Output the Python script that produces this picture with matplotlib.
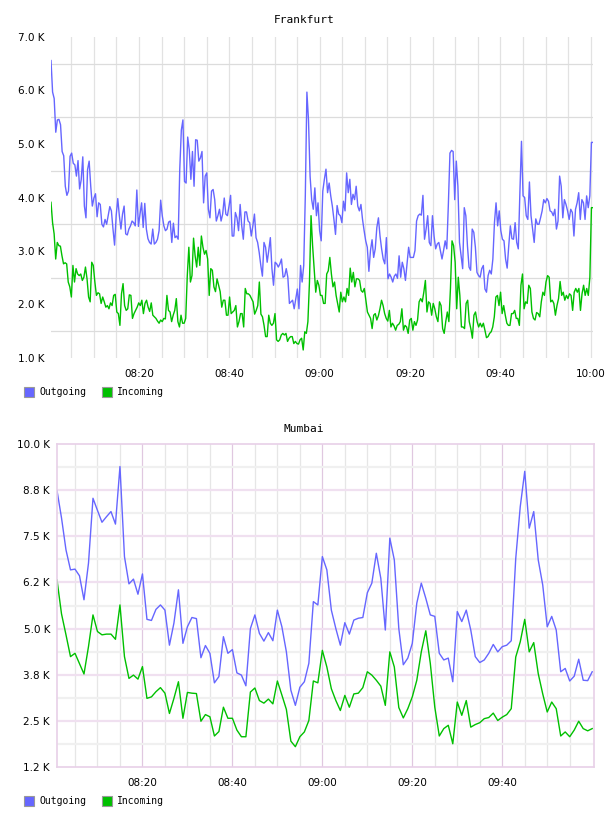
import numpy as np
import matplotlib
matplotlib.use("Agg")
import matplotlib.pyplot as plt
from matplotlib.patches import Rectangle

# Frankfurt: ~20 s samples from 08:00 to 10:00 (values in K)
fra_out = [
    6.56, 5.97, 5.85, 5.22, 5.45, 5.46, 5.36, 4.86, 4.78, 4.21, 4.04, 4.12, 4.77, 4.83, 4.64, 4.61, 4.40, 4.69,
    4.16, 4.33, 4.76, 3.84, 3.62, 4.52, 4.68, 4.21, 3.84, 3.99, 4.07, 3.64, 3.90, 3.87, 3.50, 3.45, 3.59, 3.50,
    3.66, 3.83, 3.75, 3.41, 3.11, 3.66, 3.98, 3.66, 3.41, 3.69, 3.84, 3.32, 3.30, 3.41, 3.47, 3.56, 3.53, 3.47,
    4.14, 3.46, 3.69, 3.90, 3.44, 3.89, 3.41, 3.23, 3.16, 3.13, 3.41, 3.13, 3.16, 3.22, 3.38, 3.95, 3.66, 3.47,
    3.38, 3.41, 3.54, 3.56, 3.16, 3.52, 3.25, 3.28, 3.22, 4.52, 5.26, 5.45,
    4.30, 4.27, 5.13, 4.89, 4.34, 4.86, 4.21, 5.08, 5.07, 4.68, 4.74, 4.86, 3.90, 4.40, 4.46, 3.78, 3.62, 4.12,
    4.15, 3.96, 3.56, 3.66, 3.78, 3.56, 3.69, 3.99, 3.69, 3.66, 3.84, 4.04, 3.28, 3.28, 3.72, 3.62, 3.38, 3.87,
    3.47, 3.22, 3.73, 3.73, 3.56, 3.53, 3.28, 3.47, 3.69, 3.25, 3.16, 2.97, 2.73, 2.53, 3.16, 3.07, 2.79, 3.01,
    3.25, 2.67, 2.36, 2.79, 2.76, 2.70, 2.76, 2.85, 2.51, 2.53, 2.67, 2.51, 2.02, 2.05, 2.08, 1.92, 2.11, 2.29,
    1.92, 2.73, 2.42, 2.73, 4.03,
    5.97, 5.45, 4.40, 3.96, 3.78, 4.18, 3.66, 3.90, 3.38, 3.19, 4.12, 4.34, 4.53, 4.09, 4.27, 4.03, 3.84, 3.59,
    3.31, 3.85, 3.69, 3.66, 3.53, 3.93, 3.75, 4.46, 4.09, 4.34, 3.87, 4.06, 3.96, 4.21, 3.84, 3.75, 3.87, 3.59,
    3.38, 3.19, 3.07, 2.62, 3.01, 3.21, 2.88, 3.04, 3.44, 3.62, 3.28, 3.04, 2.85, 2.76, 3.25, 2.48, 2.57, 2.51,
    2.42, 2.53, 2.57, 2.49, 2.91, 2.51, 2.79, 2.67, 2.45, 2.76, 3.07, 2.88, 2.88, 2.88, 3.01, 3.56, 3.66, 3.69,
    3.67, 4.04, 3.22, 3.41, 3.66, 3.16, 3.10, 3.66, 3.28, 3.04, 3.13, 3.16, 3.01, 2.85, 3.01, 3.19, 3.04, 3.87,
    4.83, 4.88, 4.86, 3.96, 4.68, 4.21, 3.16, 2.91, 2.67, 3.81, 3.66, 3.10, 2.70, 2.64, 3.41, 3.35, 3.07, 2.60,
    2.54, 2.51, 2.67, 2.73, 2.29, 2.23, 2.54, 2.64, 2.57, 2.85, 3.53, 3.90, 3.47, 3.75, 3.38, 3.22, 3.19, 2.85,
    2.68, 3.10, 3.47, 3.23, 3.22, 3.53, 3.16, 3.04, 4.09, 5.05, 4.03, 4.00, 3.66, 3.59, 4.29, 3.66, 3.41, 3.16,
    3.60, 3.50, 3.50, 3.62, 3.75, 3.96, 3.90, 3.98, 3.93, 3.75, 3.73, 3.66, 3.78, 3.41, 3.56, 4.40, 4.21, 3.62,
    3.96, 3.87, 3.75, 3.59, 3.78, 3.72, 3.28, 3.78, 3.90, 4.09, 3.59, 3.96, 3.90, 3.59, 4.03, 3.81, 4.03, 5.03,
    5.03,
]
fra_in = [
    3.91, 3.53, 3.32, 2.85, 3.16, 3.10, 3.09, 2.91, 2.76, 2.78, 2.76, 2.42, 2.33, 2.14, 2.73, 2.42, 2.67, 2.57,
    2.54, 2.57, 2.45, 2.51, 2.70, 2.48, 2.14, 2.05, 2.79, 2.73, 2.42, 2.17, 2.22, 2.20, 2.02, 2.14, 2.05, 1.95,
    1.98, 1.92, 2.03, 1.98, 2.17, 2.19, 1.86, 1.83, 1.61, 2.20, 2.39, 1.98, 1.89, 1.92, 2.18, 2.17, 1.74, 1.83,
    1.89, 1.95, 2.03, 1.98, 2.08, 1.83, 2.02, 2.08, 1.95, 1.87, 2.03, 1.80, 1.77, 1.74, 1.69, 1.65, 1.71, 1.68,
    1.74, 1.73, 2.17, 1.89, 1.86, 1.68, 1.80, 1.89, 2.11, 1.68, 1.58, 1.80, 1.65, 1.65, 1.74, 2.54, 3.07,
    2.42, 2.54, 3.24, 2.91, 2.70, 3.07, 2.73, 3.28, 3.07, 2.94, 3.01, 2.85, 2.17, 2.67, 2.64, 2.33, 2.24, 2.48,
    2.36, 2.24, 1.95, 2.08, 2.08, 1.80, 1.80, 2.14, 1.83, 1.86, 1.89, 1.98, 1.58, 1.68, 1.83, 1.83, 1.58, 2.30,
    2.20, 2.20, 2.17, 2.11, 2.05, 1.82, 1.89, 1.98, 2.42, 1.82, 1.77, 1.61, 1.40, 1.40, 1.80, 1.65, 1.61, 1.65,
    1.83, 1.34, 1.31, 1.34, 1.43, 1.46, 1.43, 1.46, 1.31, 1.37, 1.40, 1.40, 1.27, 1.31, 1.27, 1.26, 1.34, 1.37,
    1.15, 1.49, 1.46, 1.68, 2.42,
    3.66, 3.10, 2.67, 2.23, 2.45, 2.36, 2.17, 2.17, 2.02, 2.02, 2.57, 2.63, 2.88, 2.57, 2.33, 2.42, 2.17, 2.02,
    1.86, 2.23, 2.05, 2.14, 2.05, 2.30, 2.17, 2.68, 2.42, 2.60, 2.33, 2.48, 2.48, 2.45, 2.26, 2.23, 2.30, 2.08,
    1.86, 1.80, 1.74, 1.55, 1.80, 1.83, 1.71, 1.79, 1.92, 2.08, 1.98, 1.83, 1.74, 1.69, 1.89, 1.58, 1.65, 1.60,
    1.52, 1.61, 1.63, 1.68, 1.92, 1.52, 1.61, 1.58, 1.46, 1.71, 1.74, 1.52, 1.68, 1.61, 1.71, 2.05, 2.11, 2.05,
    2.23, 2.45, 1.86, 2.05, 2.02, 1.80, 2.02, 1.92, 1.77, 1.68, 2.05, 1.98, 1.55, 1.46, 1.68, 1.86, 1.68, 2.30,
    3.19, 3.10, 2.79, 1.92, 2.51, 2.17, 1.58, 1.58, 1.55, 2.02, 2.08, 1.68, 1.55, 1.37, 1.80, 1.86, 1.68, 1.58,
    1.65, 1.58, 1.65, 1.52, 1.38, 1.40, 1.46, 1.49, 1.58, 1.77, 2.14, 2.17, 1.98, 2.23, 1.83, 1.98, 1.80, 1.65,
    1.61, 1.61, 1.83, 1.83, 1.89, 1.74, 1.74, 1.61, 2.36, 2.57, 1.92, 2.05, 2.02, 2.36, 2.30, 1.86, 1.74, 1.71,
    1.85, 1.83, 1.77, 2.05, 2.23, 2.17, 2.42, 2.54, 2.51, 2.05, 2.08, 2.02, 1.80, 1.98, 2.11, 2.43, 2.17, 2.23,
    2.08, 2.17, 2.11, 2.20, 2.17, 1.89, 2.23, 2.30, 2.23, 2.30, 1.89, 2.20, 2.36, 2.17, 2.30, 2.17, 2.51, 3.81,
    3.81,
]

# Mumbai: one sample per minute, 08:01 .. 10:00 (values in K)
mum_out = [
    8.74, 8.00, 7.13, 6.59, 6.61, 6.43, 5.78, 6.77, 8.53, 8.20, 7.88, 8.03, 8.17, 7.83, 9.39, 6.95, 6.21, 6.34,
    5.93, 6.48, 5.25, 5.22, 5.52, 5.64, 5.50, 4.55, 5.15, 6.05, 4.60, 5.05, 5.30, 5.27, 4.21, 4.54, 4.33, 3.53,
    3.70, 4.78, 4.33, 4.43, 3.80, 3.74, 3.45, 5.00, 5.37, 4.87, 4.66, 4.89, 4.67, 5.50, 5.05, 4.37, 3.33, 2.92,
    3.41, 3.56, 4.06, 5.73, 5.64, 6.95, 6.59, 5.50, 5.00, 4.55, 5.16, 4.85, 5.23, 5.28, 5.30, 5.97, 6.23, 7.04,
    6.36, 4.96, 7.45, 6.86, 5.00, 4.02, 4.20, 4.60, 5.69, 6.23, 5.82, 5.37, 5.33, 4.33, 4.15, 4.20, 3.56, 5.46,
    5.19, 5.50, 4.96, 4.24, 4.08, 4.15, 4.33, 4.57, 4.37, 4.51, 4.55, 4.67, 6.90, 8.30, 9.26, 7.72, 8.17, 6.86,
    6.18, 5.05, 5.33, 4.96, 3.83, 3.92, 3.58, 3.71, 4.17, 3.60, 3.59, 3.83,
]
mum_in = [
    6.32, 5.40, 4.83, 4.24, 4.33, 4.05, 3.77, 4.51, 5.37, 4.92, 4.83, 4.85, 4.85, 4.71, 5.64, 4.24, 3.65, 3.74,
    3.63, 3.97, 3.11, 3.15, 3.29, 3.40, 3.25, 2.70, 3.11, 3.56, 2.57, 3.27, 3.25, 3.24, 2.49, 2.67, 2.61, 2.09,
    2.21, 2.87, 2.57, 2.57, 2.25, 2.07, 2.07, 3.28, 3.39, 3.05, 2.98, 3.09, 2.96, 3.58, 3.20, 2.81, 1.95, 1.80,
    2.07, 2.20, 2.51, 3.58, 3.53, 4.41, 3.96, 3.37, 3.05, 2.78, 3.19, 2.87, 3.23, 3.25, 3.40, 3.83, 3.74, 3.60,
    3.44, 2.92, 4.37, 3.96, 2.86, 2.58, 2.83, 3.15, 3.60, 4.37, 4.94, 4.06, 2.87, 2.09, 2.29, 2.38, 1.88, 3.01,
    2.65, 3.05, 2.33, 2.40, 2.45, 2.56, 2.59, 2.71, 2.51, 2.60, 2.67, 2.83, 4.23, 4.64, 5.25, 4.37, 4.62, 3.78,
    3.23, 2.74, 3.01, 2.83, 2.09, 2.20, 2.07, 2.25, 2.49, 2.29, 2.23, 2.29,
]

time_ticks = [20, 40, 60, 80, 100, 120]
time_labels = ["08:20", "08:40", "09:00", "09:20", "09:40", "10:00"]

C_OUT = "#6666ff"
C_IN = "#00c000"
W, H = 608, 816

fig = plt.figure(figsize=(W / 100, H / 100), dpi=100)
fig.patch.set_facecolor("white")


def px_rect(l, t, r, b):
    return [l / W, 1 - b / H, (r - l) / W, (b - t) / H]


def legend(y):
    for x0, col, txt in [(24, C_OUT, "Outgoing"), (102, C_IN, "Incoming")]:
        fig.patches.append(Rectangle((x0 / W, 1 - (y + 5) / H), 10 / W, 10 / H,
                                     transform=fig.transFigure, facecolor=col,
                                     edgecolor="#999999", lw=0.8))
        fig.text((x0 + 15) / W, 1 - y / H, txt, ha="left", va="center",
                 family="DejaVu Sans Mono", fontsize=7)


# ---- Frankfurt ----
ax1 = fig.add_axes(px_rect(51, 37, 593, 358))
t1 = np.linspace(0.5, 120.5, len(fra_out))
t1b = np.linspace(0.5, 120.5, len(fra_in))
for m in range(5, 121, 5):
    ax1.axvline(m, color="#e2e2e2", lw=0.9, zorder=0)
for v in np.arange(1.5, 7, 1.0):
    ax1.axhline(v, color="#dcdcdc", lw=0.9, zorder=0)
ax1.plot(t1, fra_out, color=C_OUT, lw=1.0)
ax1.plot(t1b, fra_in, color=C_IN, lw=1.0)
ax1.set_xlim(0.5, 120.5)
ax1.set_ylim(1, 7)
ax1.set_xticks(time_ticks)
ax1.set_xticklabels(time_labels)
ax1.set_yticks(range(1, 8))
ax1.set_yticklabels([f"{v:.1f} K" for v in range(1, 8)])
for s in ax1.spines.values():
    s.set_visible(False)
ax1.tick_params(axis="x", length=0, pad=8, labelsize=7.5)
ax1.tick_params(axis="y", length=0, pad=5, labelsize=7.5)
fig.text(0.5, 1 - 20 / H, "Frankfurt", ha="center", va="center",
         family="DejaVu Sans Mono", fontsize=8)
legend(392)

# ---- Mumbai ----
ax2 = fig.add_axes(px_rect(57, 444, 594, 767))
t2 = np.arange(1, len(mum_out) + 1)
for m in range(5, 120, 5):
    major = m % 20 == 0
    ax2.axvline(m, color="#e0c8e0" if major else "#e6e6e6", lw=0.9, zorder=0)
ystep = 1.25
for k in range(1, 14):
    v = 1.25 + k * ystep / 2
    major = k % 2 == 0
    ax2.axhline(v, color="#f0e0f0" if major else "#f0f0f0", lw=1.6, zorder=0)
ax2.plot(t2, mum_out, color=C_OUT, lw=1.0)
ax2.plot(t2, mum_in, color=C_IN, lw=1.0)
ax2.set_xlim(1, 120.4)
ax2.set_ylim(1.25, 10)
ax2.set_xticks(time_ticks[:-1])
ax2.set_xticklabels(time_labels[:-1])
yt = [1.25 + k * ystep for k in range(8)]
ax2.set_yticks(yt)
ax2.set_yticklabels([f"{v:.1f} K" for v in yt])
for s in ax2.spines.values():
    s.set_color("#e8d0e8")
    s.set_linewidth(1.2)
ax2.tick_params(axis="x", length=0, pad=8, labelsize=7.5)
ax2.tick_params(axis="y", length=0, pad=5, labelsize=7.5)
fig.text(0.5, 1 - 429 / H, "Mumbai", ha="center", va="center",
         family="DejaVu Sans Mono", fontsize=8)
legend(801)

fig.savefig("out.png", dpi=100, facecolor="white")
